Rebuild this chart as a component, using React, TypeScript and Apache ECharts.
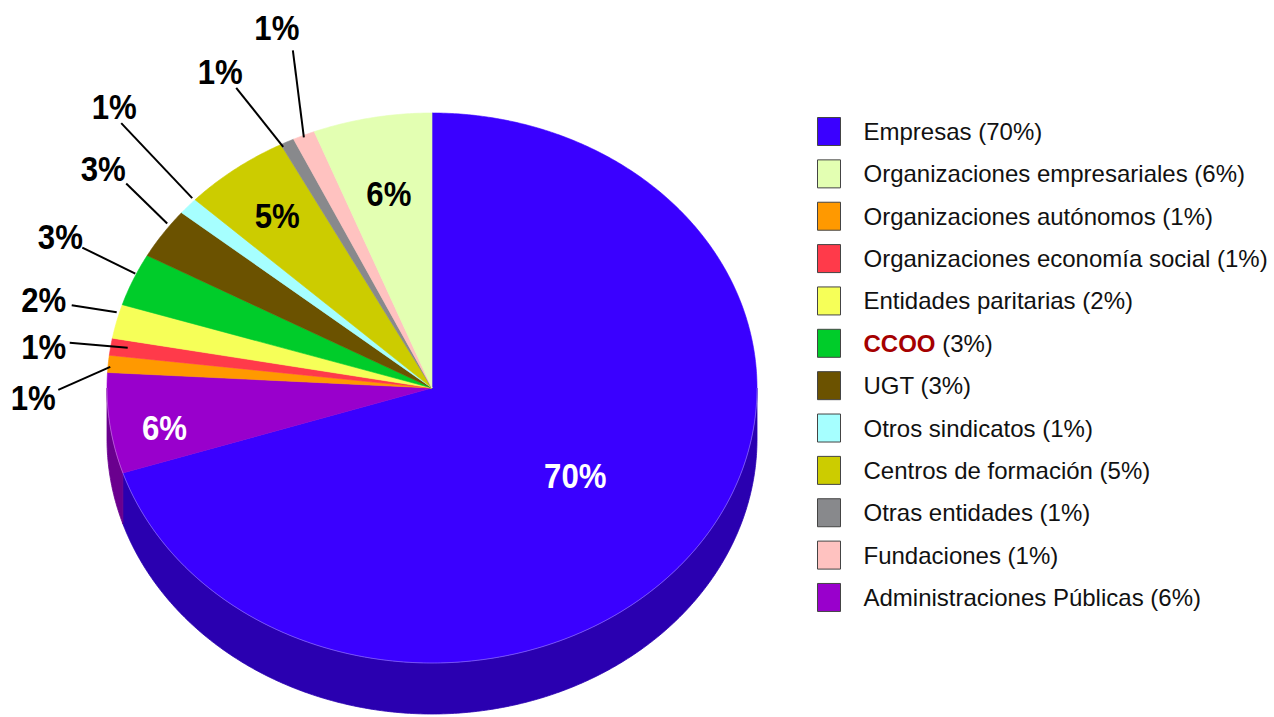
import React, { useEffect, useRef } from "react";
import * as echarts from "echarts";

// ---- data (clockwise from 12 o'clock, as drawn) ----
const sliceNames = [
  "Empresas",
  "Administraciones Públicas",
  "Organizaciones autónomos",
  "Organizaciones economía social",
  "Entidades paritarias",
  "CCOO",
  "UGT",
  "Otros sindicatos",
  "Centros de formación",
  "Otras entidades",
  "Fundaciones",
  "Organizaciones empresariales",
];
const sliceValues = [70.0, 5.9, 1.0, 1.0, 2.0, 3.1, 3.0, 1.0, 5.3, 0.7, 1.1, 5.9];

// legend order
const legendNames = [
  "Empresas",
  "Organizaciones empresariales",
  "Organizaciones autónomos",
  "Organizaciones economía social",
  "Entidades paritarias",
  "CCOO",
  "UGT",
  "Otros sindicatos",
  "Centros de formación",
  "Otras entidades",
  "Fundaciones",
  "Administraciones Públicas",
];

// ---- styles ----
const topColors = [
  "#3a00ff", "#9900cc", "#ff9900", "#ff3a4a", "#f6ff58", "#00cc2a",
  "#6b5200", "#a6ffff", "#cccc00", "#88898c", "#ffc2c0", "#e3ffb2",
];
const sideColors = [
  "#2a00b0", "#6a008e", "#b36b00", "#b32834", "#acb23e", "#008f1e",
  "#4b3900", "#74b3b3", "#8f8f00", "#5f6062", "#b38886", "#9fb37d",
];

const FONT = "'Liberation Sans', Arial, Helvetica, sans-serif";
const LABEL_SCALE_X = 0.89;

// geometry of the tilted pie
const CX = 432, CY = 388, RX = 325, RY = 275, DEPTH = 51;

// inside labels: [radial factor, dx, dy, color]
const insideLabels: Record<string, [number, number, number, string]> = {
  "Empresas": [0.545, 0, 0, "#ffffff"],
  "Administraciones Públicas": [0.83, 0, 11, "#ffffff"],
  "Centros de formación": [0.787, 0, 0, "#000000"],
  "Organizaciones empresariales": [0.72, 0, 0, "#000000"],
};
// outside labels: offsets from the rim anchor: start, end of leader line, text centre
const outsideLabels: Record<string, number[]> = {
  "Organizaciones autónomos": [2, 3, -50, 26, -75, 34],
  "Organizaciones economía social": [17, 1, -41, -4, -67, 0],
  "Entidades paritarias": [0, -9, -45, -16, -73, -21],
  "CCOO": [2, -6, -51, -32, -73, -43],
  "UGT": [4, -10, -37, -50, -60, -65],
  "Otros sindicatos": [4, -8, -67, -83, -74, -99],
  "Otras entidades": [-4, 5, -51, -54, -67, -70],
  "Fundaciones": [0, 2, -11, -85, -27, -107],
};

function pt(theta: number, dy = 0): number[] {
  const r = (theta * Math.PI) / 180;
  return [CX + RX * Math.sin(r), CY - RY * Math.cos(r) + dy];
}
function arc(a1: number, a2: number, dy = 0): number[][] {
  const n = Math.max(2, Math.ceil((a2 - a1) / 0.5));
  const out: number[][] = [];
  for (let i = 0; i <= n; i++) out.push(pt(a1 + ((a2 - a1) * i) / n, dy));
  return out;
}

export default function App() {
  const ref = useRef<HTMLDivElement>(null);
  useEffect(() => {
    if (!ref.current) return;
    const chart = echarts.init(ref.current, null, { renderer: "svg" });
    const total = sliceValues.reduce((a, b) => a + b, 0);
    const starts: number[] = [];
    let acc = 0;
    sliceValues.forEach((v) => {
      starts.push((acc / total) * 360);
      acc += v;
    });

    const labelStyle = (text: string, fill: string) => ({
      text,
      fill,
      font: `bold 35px ${FONT}`,
      align: "center",
      verticalAlign: "middle",
    });

    const series = sliceNames.map((name, i) => ({
      type: "custom",
      name,
      coordinateSystem: "none",
      itemStyle: { color: topColors[i] },
      data: [[sliceValues[i]]],
      renderItem: (_params: any, api: any) => {
        const v = api.value(0);
        const s = starts[i];
        const e = s + (v / total) * 360;
        const children: any[] = [];
        const a = Math.max(s, 90), b = Math.min(e, 270);
        if (b > a) {
          const top = arc(a, b, 0);
          const bot = arc(a, b, DEPTH).reverse();
          children.push({
            type: "polygon",
            z2: 1,
            shape: { points: top.concat(bot) },
            style: { fill: sideColors[i], stroke: sideColors[i], lineWidth: 0.8 },
          });
          children.push({
            type: "polyline",
            z2: 12,
            shape: { points: top },
            style: { fill: null, stroke: "rgba(255,255,255,0.3)", lineWidth: 1 },
          });
        }
        children.push({
          type: "polygon",
          z2: 10,
          shape: { points: [[CX, CY]].concat(arc(s, e, 0)) },
          style: { fill: topColors[i], stroke: topColors[i], lineWidth: 0.6 },
        });
        const pct = Math.round(v) + "%";
        const mid = (s + e) / 2;
        const r = (mid * Math.PI) / 180;
        const ins = insideLabels[name];
        if (ins) {
          const [f, dx, dy, col] = ins;
          children.push({
            type: "text",
            z2: 30,
            x: CX + RX * f * Math.sin(r) + dx,
            y: CY - RY * f * Math.cos(r) + dy,
            scaleX: LABEL_SCALE_X,
            style: labelStyle(pct, col),
          });
        }
        const out = outsideLabels[name];
        if (out) {
          const [ax, ay] = pt(mid);
          children.push({
            type: "line",
            z2: 20,
            shape: { x1: ax + out[0], y1: ay + out[1], x2: ax + out[2], y2: ay + out[3] },
            style: { stroke: "#000", lineWidth: 2 },
          });
          children.push({
            type: "text",
            z2: 30,
            x: ax + out[4],
            y: ay + out[5],
            scaleX: LABEL_SCALE_X,
            style: labelStyle(pct, "#000"),
          });
        }
        return { type: "group", children };
      },
    }));

    const pctOf = (name: string) => Math.round(sliceValues[sliceNames.indexOf(name)]);

    chart.setOption({
      animation: false,
      backgroundColor: "#ffffff",
      legend: {
        orient: "vertical",
        left: 817,
        top: 117,
        padding: 0,
        itemWidth: 23,
        itemHeight: 28,
        itemGap: 13.36,
        icon: "rect",
        selectedMode: false,
        data: legendNames,
        itemStyle: { borderColor: "#444", borderWidth: 1 },
        formatter: (name: string) =>
          name === "CCOO" ? `{c|CCOO} (${pctOf(name)}%)` : `${name} (${pctOf(name)}%)`,
        textStyle: {
          fontFamily: FONT,
          fontSize: 24,
          color: "#111",
          lineHeight: 26,
          padding: [0, 0, 0, 18],
          rich: {
            c: { fontFamily: FONT, fontSize: 24, fontWeight: "bold", color: "#a50000", lineHeight: 26 },
          },
        },
      },
      series,
    });
    return () => chart.dispose();
  }, []);
  return (
    <div
      ref={ref}
      style={{ position: "fixed", left: 0, top: 0, width: 1274, height: 717, background: "#fff" }}
    />
  );
}
